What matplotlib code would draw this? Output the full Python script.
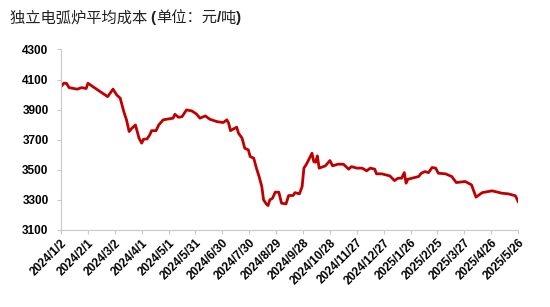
import matplotlib
matplotlib.use("Agg")
import matplotlib.pyplot as plt
import numpy as np
import pandas as pd

plt.rcParams['font.family'] = ['Liberation Sans', 'Noto Sans CJK SC', 'DejaVu Sans']

# 数据 (读自图片, 日期为 2024/1/2 起的天数)
start = pd.Timestamp("2024-01-02")
day_offset = [0, 3, 6, 9, 18, 23, 28, 30, 52, 58, 62, 66, 70, 73, 76, 79, 83, 85, 87, 90,
              92, 96, 99, 101, 106, 109, 114, 125, 127, 131, 135, 140, 146, 151, 155, 161,
              166, 174, 181, 185, 187, 189, 192, 196, 198, 202, 205, 209, 211, 215, 218,
              221, 224, 226, 229, 231, 233, 236, 239, 243, 246, 251, 254, 259, 261, 266,
              269, 271, 274, 280, 282, 284, 286, 288, 295, 300, 303, 309, 315, 321, 324,
              330, 336, 341, 345, 350, 352, 358, 367, 372, 376, 380, 383, 385, 387, 399,
              402, 406, 410, 414, 418, 421, 429, 436, 441, 451, 458, 463, 470, 481, 492,
              499, 507, 510]
cost = [4053, 4075, 4075, 4046, 4036, 4046, 4040, 4075, 3986, 4036, 3998, 3976, 3887, 3832,
        3754, 3776, 3798, 3754, 3710, 3677, 3703, 3705, 3732, 3760, 3760, 3798, 3832, 3843,
        3869, 3849, 3853, 3898, 3891, 3871, 3843, 3858, 3836, 3820, 3814, 3832, 3810, 3760,
        3770, 3783, 3743, 3710, 3643, 3632, 3588, 3577, 3511, 3455, 3388, 3300, 3273, 3262,
        3300, 3311, 3351, 3351, 3278, 3273, 3329, 3329, 3348, 3340, 3388, 3511, 3539, 3610,
        3554, 3550, 3592, 3511, 3526, 3561, 3526, 3537, 3537, 3504, 3521, 3511, 3511, 3493,
        3511, 3504, 3473, 3473, 3459, 3428, 3444, 3444, 3481, 3411, 3437, 3455, 3477, 3488,
        3481, 3515, 3511, 3477, 3473, 3455, 3415, 3422, 3400, 3318, 3348, 3360, 3344, 3340,
        3327, 3289]
y_ticks = [3100, 3300, 3500, 3700, 3900, 4100, 4300]

dates = start + pd.to_timedelta(day_offset, unit="D")
tick_dates = [start + pd.Timedelta(days=30 * i) for i in range(18)]
tick_labels = [f"{d.year}/{d.month}/{d.day}" for d in tick_dates]

fig = plt.figure(figsize=(5.5, 3.07), dpi=100)
ax = fig.add_axes([0.111, 0.251, 0.831, 0.588])

ax.plot(dates, cost, color='#C00000', linewidth=2)

ax.set_xlim(tick_dates[0], tick_dates[-1])
ax.set_ylim(3100, 4300)
ax.set_yticks(y_ticks)
ax.set_yticklabels([str(v) for v in y_ticks], fontsize=8.5, fontweight='bold')
ax.set_xticks(tick_dates)
ax.set_xticklabels(tick_labels, rotation=45, ha='right', rotation_mode='anchor',
                   fontsize=8.5, fontweight='bold')

for s in ['top', 'right']:
    ax.spines[s].set_visible(False)
for s in ['left', 'bottom']:
    ax.spines[s].set_color('#C8C8C8')
    ax.spines[s].set_linewidth(0.8)
ax.tick_params(axis='both', colors='#C8C8C8', labelcolor='black', length=3, width=0.8)
ax.tick_params(axis='y', pad=6)
ax.tick_params(axis='x', pad=2)

# 标题: 中文常规, 括号和斜杠加粗
title_parts = [("独立电弧炉平均成本 ", 'normal'), ("(", 'bold'), ("单位：元", 'normal'),
               ("/", 'bold'), ("吨", 'normal'), (")", 'bold')]
fig.canvas.draw()
renderer = fig.canvas.get_renderer()
x_px = 10
for txt, w in title_parts:
    t = fig.text(x_px / 550, 1 - 18 / 307, txt, fontsize=11, fontweight=w,
                 family=['Liberation Sans', 'Noto Sans CJK SC'] if w == 'bold' else ['Noto Sans CJK SC'],
                 va='center', ha='left', color='#222222')
    x_px += t.get_window_extent(renderer).width

fig.savefig("out.png", dpi=100)
